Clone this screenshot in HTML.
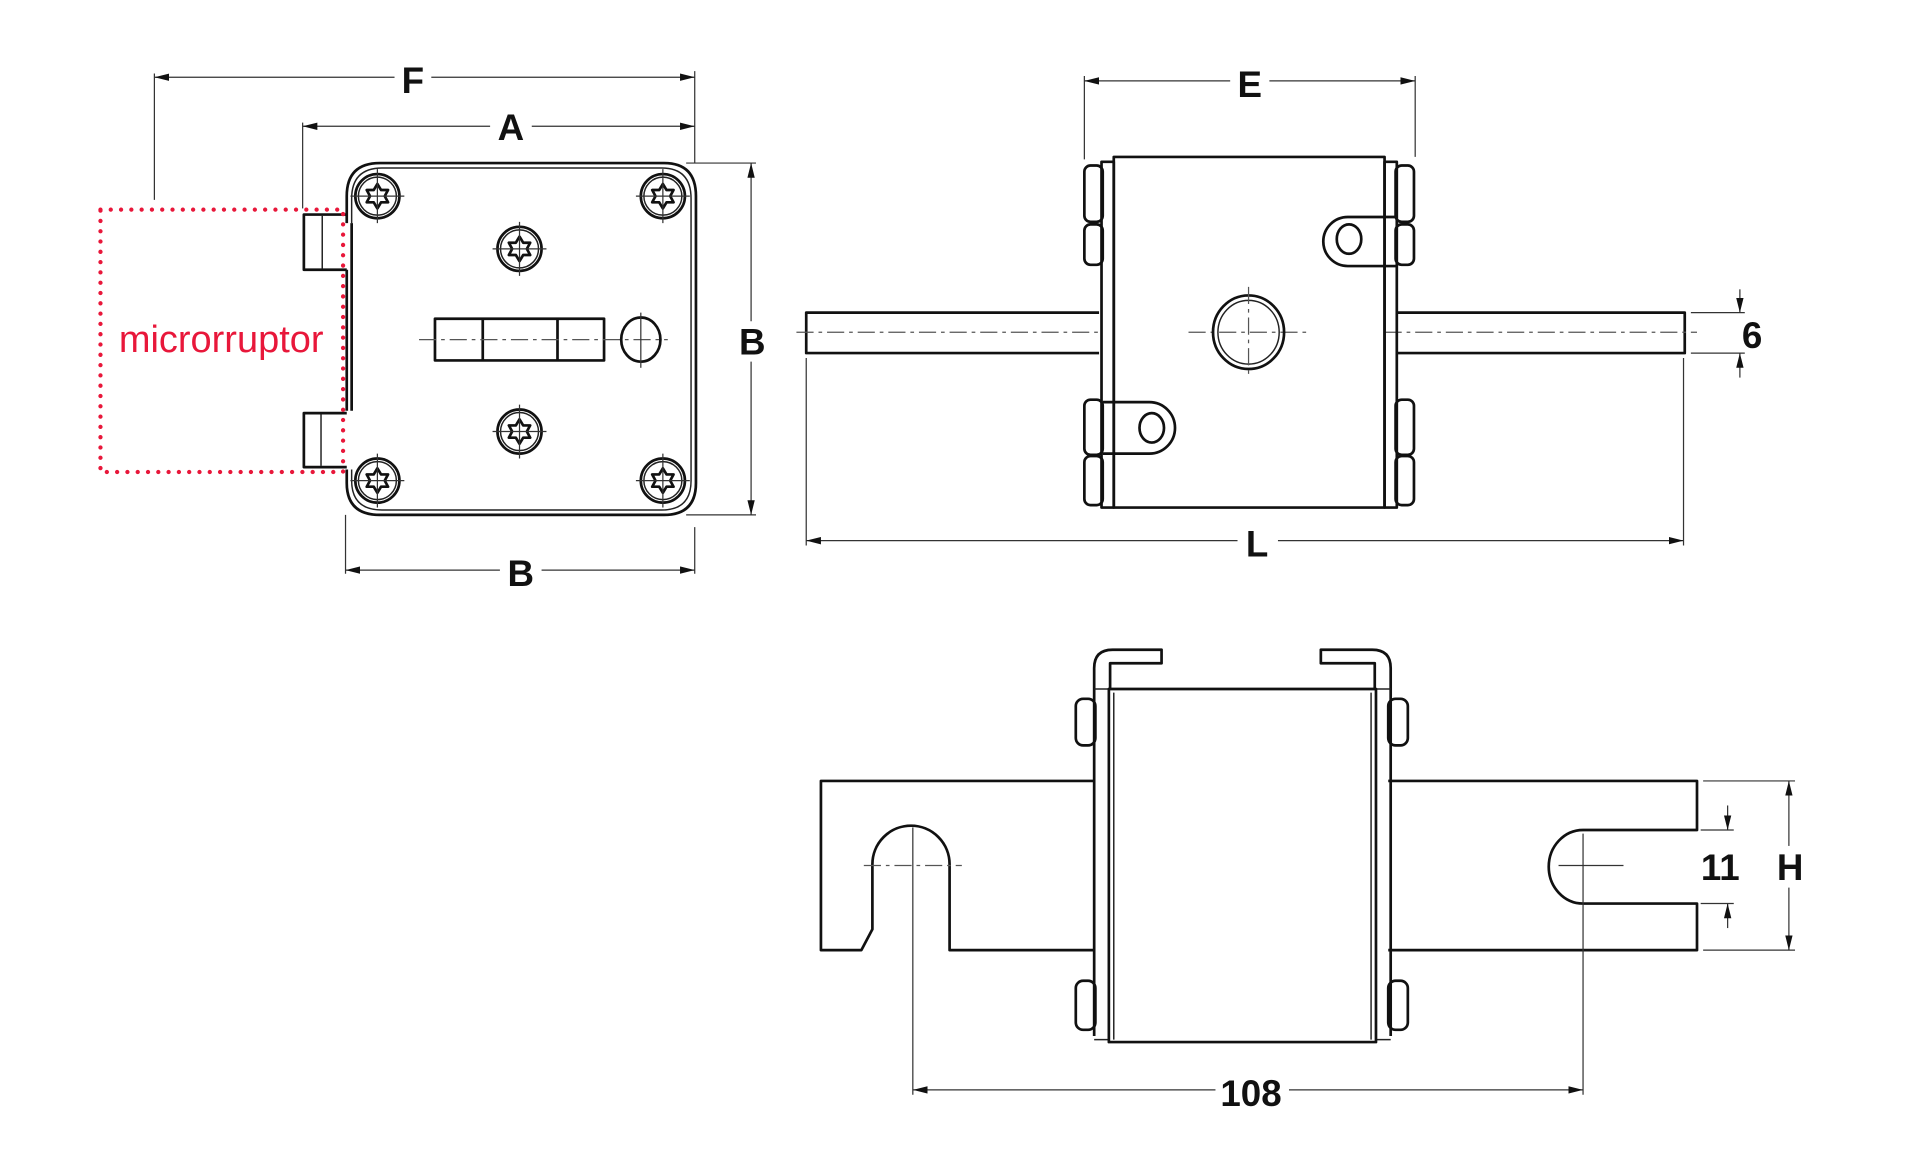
<!DOCTYPE html>
<html><head><meta charset="utf-8">
<style>
html,body{margin:0;padding:0;background:#fff;}
svg{display:block;}
.l{fill:none;stroke:#111;stroke-width:2.2;stroke-linejoin:round;}
.t{fill:none;stroke:#222;stroke-width:1.2;}
.d{fill:none;stroke:#333;stroke-width:1;}
.c{fill:none;stroke:#555;stroke-width:1;stroke-dasharray:14 4 3 4;}
.lab{font-family:"Liberation Sans",sans-serif;font-weight:bold;font-size:30px;fill:#111;text-anchor:middle;}
</style></head><body>
<svg width="1920" height="1161" viewBox="0 0 1567 947" preserveAspectRatio="none" xmlns="http://www.w3.org/2000/svg">
<defs>
<marker id="a" viewBox="0 0 12 6" refX="12" refY="3" markerWidth="12" markerHeight="6" orient="auto-start-reverse" markerUnits="userSpaceOnUse"><path d="M0,0 L12,3 L0,6 Z" fill="#111"/></marker>
<g id="scr"><circle r="18" class="l" stroke-width="1.8"/><circle r="15.5" class="t"/>
<path d="M0,-10 L3,-5 L8.7,-5 L6,0 L8.7,5 L3,5 L0,10 L-3,5 L-8.7,5 L-6,0 L-8.7,-5 L-3,-5 Z" class="l" stroke-width="1.6"/>
<path d="M-22,0 H22 M0,-22 V22" class="d" stroke="#777"/></g>
</defs>

<!-- ===== LEFT VIEW ===== -->
<path d="M126,60 V163 M567,58 V133" class="d"/>
<line x1="126" y1="63" x2="322" y2="63" class="d" marker-start="url(#a)"/>
<line x1="352" y1="63" x2="567" y2="63" class="d" marker-end="url(#a)"/>
<text x="337" y="76" class="lab">F</text>
<path d="M247,100 V170" class="d"/>
<line x1="247" y1="103" x2="400" y2="103" class="d" marker-start="url(#a)"/>
<line x1="434" y1="103" x2="567" y2="103" class="d" marker-end="url(#a)"/>
<text x="417" y="114" class="lab">A</text>
<path d="M283,182 V160 Q283,133 310,133 H542 Q568,133 568,160 V394 Q568,420 542,420 H310 Q283,420 283,394 V383" class="l"/>
<path d="M287,182 V162 Q287,137 312,137 H540 Q564,137 564,162 V392 Q564,416 540,416 H312 Q287,416 287,392 V383" class="t"/>
<path d="M287,182 V220 M283,220 V335 M287,220 V335" class="l" stroke-width="1.5"/>
<path d="M283,175 H248 V220 H283" class="l" stroke-width="1.8"/>
<path d="M263,176 V219" class="t"/>
<path d="M283,337 H248 V381 H283" class="l" stroke-width="1.8"/>
<path d="M262,338 V380" class="t"/>
<use href="#scr" x="308" y="160"/><use href="#scr" x="541" y="160"/>
<use href="#scr" x="308" y="392"/><use href="#scr" x="541" y="392"/>
<use href="#scr" x="424" y="203"/><use href="#scr" x="424" y="352"/>
<rect x="355" y="260" width="138" height="34" class="l"/>
<path d="M394,260 V294 M455,260 V294" class="l" stroke-width="1.6"/>
<path d="M342,277 H545" class="c"/>
<ellipse cx="523" cy="277" rx="16" ry="18" class="l" stroke-width="1.8"/>
<path d="M523,255 V300" class="d" stroke="#777"/>
<path d="M560,133 H617 M560,420 H617" class="d"/>
<line x1="613" y1="262" x2="613" y2="133" class="d" marker-end="url(#a)"/>
<line x1="613" y1="295" x2="613" y2="420" class="d" marker-end="url(#a)"/>
<text x="614" y="289" class="lab">B</text>
<path d="M282,420 V468 M567,430 V468" class="d"/>
<line x1="282" y1="465" x2="408" y2="465" class="d" marker-start="url(#a)"/>
<line x1="442" y1="465" x2="567" y2="465" class="d" marker-end="url(#a)"/>
<text x="425" y="478" class="lab">B</text>
<rect x="82" y="171" width="198" height="214" fill="none" stroke="#e8173a" stroke-width="3.5" stroke-dasharray="0 8.4" stroke-linecap="round"/>
<text x="97" y="287" font-family="Liberation Sans,sans-serif" font-size="31" fill="#e8173a">microrruptor</text>

<!-- ===== TOP RIGHT VIEW ===== -->
<path d="M885,62 V130 M1155,62 V128" class="d"/>
<line x1="885" y1="66" x2="1004" y2="66" class="d" marker-start="url(#a)"/>
<line x1="1036" y1="66" x2="1155" y2="66" class="d" marker-end="url(#a)"/>
<text x="1020" y="79" class="lab">E</text>
<path d="M897,255 H658 V288 H897" class="l"/>
<path d="M1140,255 H1375 V288 H1140" class="l"/>
<path d="M650,271 H900 M970,271 H1068 M1130,271 H1385" class="c"/>
<g class="l" stroke-width="1.8">
<rect x="885" y="135" width="15" height="46" rx="5"/><rect x="885" y="183" width="15" height="33" rx="5"/>
<rect x="885" y="326" width="15" height="45" rx="5"/><rect x="885" y="372" width="15" height="40" rx="5"/>
<rect x="1139" y="135" width="15" height="46" rx="5"/><rect x="1139" y="183" width="15" height="33" rx="5"/>
<rect x="1139" y="326" width="15" height="45" rx="5"/><rect x="1139" y="372" width="15" height="40" rx="5"/>
</g>
<rect x="899" y="132" width="10" height="282" class="l" stroke-width="1.8"/>
<rect x="1130" y="132" width="10" height="282" class="l" stroke-width="1.8"/>
<rect x="909" y="128" width="221" height="286" class="l"/>
<ellipse cx="1019" cy="271" rx="29" ry="30" class="l"/>
<ellipse cx="1019" cy="271" rx="25" ry="26" class="t"/>
<path d="M1019,234 V308" class="c"/>
<path d="M1140,177 H1100 A20,20 0 0 0 1100,217 H1140" class="l" fill="#fff"/>
<ellipse cx="1101" cy="195" rx="10" ry="12" class="l"/>
<path d="M900,328 H938 A21,21 0 0 1 938,370 H900" class="l" fill="#fff"/>
<ellipse cx="940" cy="349" rx="10" ry="12" class="l"/>
<path d="M1380,255 H1424 M1380,288 H1424" class="d"/>
<line x1="1420" y1="236" x2="1420" y2="255" class="d" marker-end="url(#a)"/>
<line x1="1420" y1="308" x2="1420" y2="288" class="d" marker-end="url(#a)"/>
<text x="1430" y="284" class="lab">6</text>
<path d="M658,292 V445 M1374,292 V445" class="d"/>
<line x1="658" y1="441" x2="1010" y2="441" class="d" marker-start="url(#a)"/>
<line x1="1043" y1="441" x2="1374" y2="441" class="d" marker-end="url(#a)"/>
<text x="1026" y="454" class="lab">L</text>

<!-- ===== BOTTOM VIEW ===== -->
<path d="M893,637 H670 V775 H703 L712,758 V705 A30,30 0 0 1 775,705 V775 H893" class="l"/>
<path d="M705,706 H785" class="c"/>
<path d="M1133,637 H1385 V677 H1292 A28,30 0 0 0 1292,737 H1385 V775 H1133" class="l"/>
<path d="M1272,706 H1325" class="d"/>
<g class="l" stroke-width="1.8">
<rect x="878" y="570" width="16" height="38" rx="6"/><rect x="878" y="800" width="16" height="40" rx="6"/>
<rect x="1133" y="570" width="16" height="38" rx="6"/><rect x="1133" y="800" width="16" height="40" rx="6"/>
</g>
<path d="M893,845 V545 Q893,530 908,530 H948 V541 H906 V562" class="l"/>
<path d="M1135,845 V545 Q1135,530 1120,530 H1078 V541 H1122 V562" class="l"/>
<path d="M893,848 H905 M1123,848 H1135 M893,562 H905 M1123,562 H1135" class="t"/>
<rect x="905" y="562" width="218" height="288" class="l"/>
<path d="M909,565 V848 M1119,565 V848" class="t"/>
<path d="M1388,677 H1415 M1388,737 H1415" class="d"/>
<line x1="1410" y1="657" x2="1410" y2="677" class="d" marker-end="url(#a)"/>
<line x1="1410" y1="757" x2="1410" y2="737" class="d" marker-end="url(#a)"/>
<text x="1404" y="718" class="lab">11</text>
<path d="M1390,637 H1465 M1390,775 H1465" class="d"/>
<line x1="1460" y1="690" x2="1460" y2="637" class="d" marker-end="url(#a)"/>
<line x1="1460" y1="724" x2="1460" y2="775" class="d" marker-end="url(#a)"/>
<text x="1461" y="718" class="lab">H</text>
<path d="M745,675 V893 M1292,680 V893" class="d"/>
<line x1="745" y1="889" x2="992" y2="889" class="d" marker-start="url(#a)"/>
<line x1="1052" y1="889" x2="1292" y2="889" class="d" marker-end="url(#a)"/>
<text x="1021" y="902" class="lab">108</text>
</svg>
</body></html>
